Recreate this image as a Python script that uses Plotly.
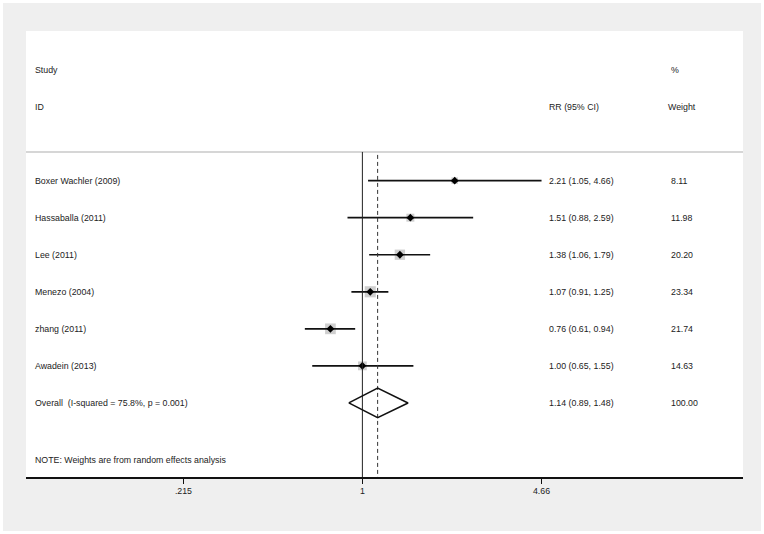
import math
import plotly.graph_objects as go

# ---- data ----
studies = ["Boxer Wachler (2009)", "Hassaballa (2011)", "Lee (2011)",
           "Menezo (2004)", "zhang (2011)", "Awadein (2013)"]
rr = [2.21, 1.51, 1.38, 1.07, 0.76, 1.00]
ci_lo = [1.05, 0.88, 1.06, 0.91, 0.61, 0.65]
ci_hi = [4.66, 2.59, 1.79, 1.25, 0.94, 1.55]
weights = [8.11, 11.98, 20.20, 23.34, 21.74, 14.63]
overall_rr = 1.14
overall_lo = 0.89
overall_hi = 1.48
overall_label = "Overall\u00a0\u00a0(I-squared = 75.8%, p = 0.001)"
note = "NOTE: Weights are from random effects analysis"
tick_vals = [0.215, 1, 4.66]
tick_text = [".215", "1", "4.66"]

FONT = "Arial, Liberation Sans, sans-serif"
FS = 8.8
TXT = "#222222"

rows = list(range(1, len(studies) + 1))
overall_row = len(studies) + 1

fig = go.Figure()

# gray squares (area ~ weight)
fig.add_trace(go.Scatter(
    x=rr, y=rows, mode="markers",
    marker=dict(symbol="square", color="#bababa",
                size=[2.3 * math.sqrt(w) for w in weights], line=dict(width=0)),
    hoverinfo="skip", showlegend=False))

# CI lines
xs, ys = [], []
for r, lo, hi in zip(rows, ci_lo, ci_hi):
    xs += [lo, hi, None]
    ys += [r, r, None]
fig.add_trace(go.Scatter(x=xs, y=ys, mode="lines",
                         line=dict(color="#111111", width=1.7),
                         hoverinfo="skip", showlegend=False))

# point estimates
fig.add_trace(go.Scatter(
    x=rr, y=rows, mode="markers",
    marker=dict(symbol="diamond", color="black", size=6),
    hoverinfo="skip", showlegend=False))

# no-effect line
sep_row = 0.225
bottom_row = 9.0
fig.add_trace(go.Scatter(x=[1, 1], y=[sep_row, bottom_row], mode="lines",
                         line=dict(color="#222222", width=1),
                         hoverinfo="skip", showlegend=False))
# overall effect dashed line
fig.add_trace(go.Scatter(x=[overall_rr, overall_rr], y=[sep_row + 0.08, bottom_row],
                         mode="lines",
                         line=dict(color="#333333", width=1, dash="4px,3px"),
                         hoverinfo="skip", showlegend=False))
# overall diamond
h = 0.40
fig.add_trace(go.Scatter(
    x=[overall_lo, overall_rr, overall_hi, overall_rr, overall_lo],
    y=[overall_row, overall_row - h, overall_row, overall_row + h, overall_row],
    mode="lines", line=dict(color="#111111", width=1.6),
    hoverinfo="skip", showlegend=False))

# ---- text ----
ann = []
def txt(xp, y, s):
    ann.append(dict(x=xp, y=y, xref="paper", yref="y", text=s, showarrow=False,
                    xanchor="left", yanchor="middle",
                    font=dict(family=FONT, size=FS, color=TXT)))

X_STUDY, X_RR, X_W = 0.0098, 0.7266, 0.8968
txt(X_STUDY, -2.0, "Study")
txt(X_STUDY, -1.0, "ID")
txt(X_RR, -1.0, "RR (95% CI)")
txt(X_W, -2.0, "%")
txt(X_W - 0.004, -1.0, "Weight")
for r, s, e, lo, hi, w in zip(rows, studies, rr, ci_lo, ci_hi, weights):
    txt(X_STUDY, r, s)
    txt(X_RR, r, f"{e:.2f} ({lo:.2f}, {hi:.2f})")
    txt(X_W, r, f"{w:.2f}")
txt(X_STUDY, overall_row, overall_label)
txt(X_RR, overall_row, f"{overall_rr:.2f} ({overall_lo:.2f}, {overall_hi:.2f})")
txt(X_W, overall_row, f"{sum(weights):.2f}")
txt(X_STUDY, 8.54, note)

# ---- background shapes ----
L, R, T, B = 26, 21, 31, 57
W, H = 764, 534
pw, ph = W - L - R, H - T - B
def px(x):
    return (x - L) / pw
def py(y):
    return (H - B - y) / ph

shapes = [
    dict(type="rect", xref="paper", yref="paper", x0=px(3), x1=px(761),
         y0=py(531), y1=py(3), fillcolor="#efefef", line=dict(width=0), layer="below"),
    dict(type="rect", xref="paper", yref="paper", x0=0, x1=1, y0=0, y1=1,
         fillcolor="white", line=dict(width=0), layer="below"),
    dict(type="line", xref="paper", yref="y", x0=0, x1=1, y0=sep_row, y1=sep_row,
         line=dict(color="#c8c8c8", width=1.5), layer="below"),
]

fig.update_layout(
    width=W, height=H,
    margin=dict(l=L, r=R, t=T, b=B, pad=0),
    paper_bgcolor="white", plot_bgcolor="rgba(0,0,0,0)",
    annotations=ann, shapes=shapes, showlegend=False,
    xaxis=dict(type="log", range=[math.log10(0.0556), math.log10(26.3)],
               showgrid=False, zeroline=False, showline=True,
               linecolor="#111111", linewidth=1.5,
               ticks="outside", ticklen=5, tickwidth=1, tickcolor="#111111",
               tickvals=tick_vals, ticktext=tick_text,
               tickfont=dict(family=FONT, size=FS, color=TXT), fixedrange=True),
    yaxis=dict(range=[bottom_row, -3.04], visible=False, showgrid=False,
               zeroline=False, fixedrange=True),
)

fig.write_html("out.html", config={"displayModeBar": False},
               post_script="document.body.style.margin='0';document.body.style.overflow='hidden';")
